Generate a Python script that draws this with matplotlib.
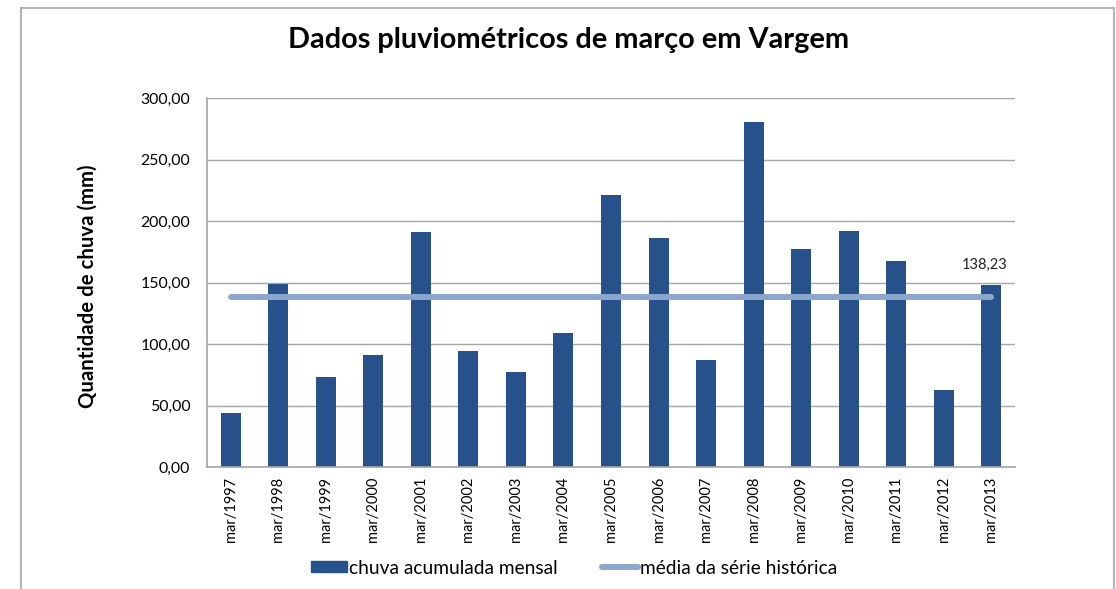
import matplotlib
matplotlib.use("Agg")
import matplotlib.pyplot as plt
from matplotlib.patches import Rectangle
from matplotlib.lines import Line2D
import numpy as np

categories = ["mar/1997", "mar/1998", "mar/1999", "mar/2000", "mar/2001", "mar/2002",
              "mar/2003", "mar/2004", "mar/2005", "mar/2006", "mar/2007", "mar/2008",
              "mar/2009", "mar/2010", "mar/2011", "mar/2012", "mar/2013"]
rain = [44.0, 148.8, 73.3, 91.0, 191.1, 94.0, 77.0, 109.0, 221.0, 186.0, 87.0,
        280.3, 177.1, 191.7, 167.3, 63.0, 147.8]
mean_value = 138.23
yticks = [0, 50, 100, 150, 200, 250, 300]

title = "Dados pluviométricos de março em Vargem"
ylabel = "Quantidade de chuva (mm)"
bar_label = "chuva acumulada mensal"
line_label = "média da série histórica"

plt.rcParams['font.family'] = ['Lato', 'DejaVu Sans']

W, H = 1116, 589
fig = plt.figure(figsize=(W / 100, H / 100), dpi=100)

# axes area in pixels
x0, x1 = 207, 1015
y_top, y_bot = 98, 467
ax = fig.add_axes([x0 / W, 1 - y_bot / H, (x1 - x0) / W, (y_bot - y_top) / H])

bar_color = "#26518A"
line_color = "#8CA7CE"
grid_color = "#A6A6A6"

x = np.arange(len(categories))
ax.bar(x, rain, width=0.42, color=bar_color, zorder=2)
ax.plot([x[0], x[-1]], [mean_value, mean_value], color=line_color, lw=4.3,
        solid_capstyle="round", zorder=3)
ax.annotate(f"{mean_value:.2f}".replace(".", ","), xy=(x[-1], mean_value),
            xytext=(-5, 18), textcoords="offset points", ha="center", va="bottom",
            fontsize=10.5, color="#222222")

ax.set_xlim(-0.5, len(categories) - 0.5)
ax.set_ylim(0, 300)
ax.set_yticks(yticks)
ax.set_yticklabels([f"{v:.2f}".replace(".", ",") for v in yticks], fontsize=11.4)
ax.set_xticks(x)
ax.set_xticklabels(categories, rotation=90, fontsize=10.5)
ax.tick_params(axis="y", length=0, pad=12)
ax.tick_params(axis="x", length=0, pad=7)
ax.yaxis.grid(True, color=grid_color, lw=1.0, zorder=0)
ax.set_axisbelow(True)
for s in ["top", "right"]:
    ax.spines[s].set_visible(False)
for s in ["left", "bottom"]:
    ax.spines[s].set_color(grid_color)
    ax.spines[s].set_linewidth(1.2)

fig.text(569 / W, 1 - 40 / H, title, ha="center", va="center",
         fontsize=20.8, fontweight="bold")
fig.text(88 / W, 1 - 286 / H, ylabel, ha="center", va="center", rotation=90,
         fontsize=14.7, fontweight="bold")

handles = [Rectangle((0, 0), 1, 1, color=bar_color),
           Line2D([0], [0], color=line_color, lw=4.3, solid_capstyle="round")]
fig.legend(handles, [bar_label, line_label], loc="center", ncol=2,
           bbox_to_anchor=(574 / W, 1 - 568 / H), frameon=False, fontsize=13.8,
           handlelength=1.9, handleheight=0.55, handletextpad=0.1, columnspacing=2.3)

# outer chart border
fig.patches.append(Rectangle((21 / W, -0.05), (1114 - 21) / W, 1.05 - 8 / H,
                             transform=fig.transFigure, fill=False,
                             edgecolor="#B5B5B5", lw=1.5))

fig.savefig("out.png", dpi=100)
